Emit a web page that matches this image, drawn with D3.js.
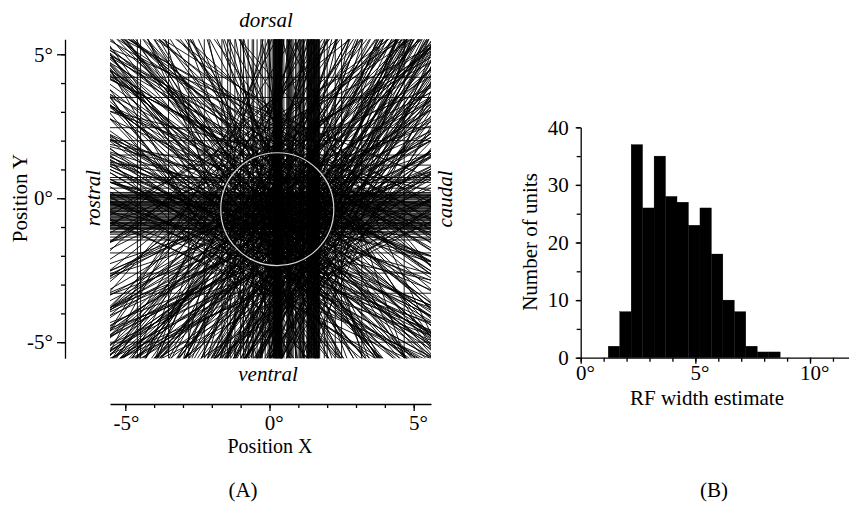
<!DOCTYPE html>
<html>
<head>
<meta charset="utf-8">
<script src="https://cdn.jsdelivr.net/npm/d3@7"></script>
<style>
body { margin: 0; background: #fff; }
text { font-family: "Liberation Serif", "Times New Roman", serif; fill: #000; }
</style>
</head>
<body>
<div id="content"></div>
<script>
// (A) receptive field lines, in degrees of visual angle
var vertX = [-4.58, -4.47, -3.5, -2.8, -2.26, -1.65, -1.45, -1.36, -1.2, -1.0, -0.9, -0.74, -0.6, -0.55,
    -0.43, -0.3, -0.25, -0.15, -0.05, 0.0, 0.05,
    0.12, 0.13, 0.15, 0.16, 0.18, 0.19, 0.2, 0.21, 0.22, 0.24, 0.25, 0.26, 0.27, 0.29, 0.3, 0.31, 0.32,
    0.33, 0.34, 0.35, 0.36, 0.37, 0.38, 0.4, 0.41, 0.42, 0.43, 0.44, 0.5,
    0.6, 0.62, 0.66, 0.69, 0.72, 0.75, 0.78, 0.82, 0.9, 0.95, 1.02, 1.05, 1.08, 1.1, 1.15, 1.18, 1.2,
    1.3, 1.31, 1.33, 1.35, 1.36, 1.38, 1.4, 1.41, 1.43, 1.45, 1.46, 1.48, 1.5, 1.52, 1.53, 1.55, 1.56,
    1.58, 1.6, 1.61, 1.63, 1.65, 1.67, 1.69, 1.7, 1.72, 1.74,
    1.9, 2.0, 2.28, 2.5, 3.2, 4.67];
var horizY = [4.2, 3.5, 2.45, 2.0, 1.5, 1.15, 0.72, 0.64, 0.55, 0.35, 0.2, 0.15, 0.12, 0.1, 0.08, 0.05,
    0.02, 0.0, -0.05, -0.1, -0.12, -0.15, -0.18, -0.22, -0.25, -0.28, -0.33, -0.35, -0.38, -0.42,
    -0.45, -0.47, -0.52, -0.55, -0.58, -0.62, -0.65, -0.68, -0.72, -0.75, -0.78, -0.83, -0.85, -0.88,
    -0.92, -0.95, -0.97, -1.02, -1.05, -1.08, -1.15, -1.2, -1.25, -1.35, -1.45, -1.9, -2.6, -3.3, -5.0];
// [orientation (deg), offset from RF centre (deg)]
var risingLines = [[18,-0.4],[20,0.9],[21,-1.6],[22,0.2],[23,1.8],[24,-0.9],[25,0.5],[25,-2.4],[26,1.3],
    [27,-0.2],[27,2.6],[28,-1.2],[29,0.7],[30,-0.6],[30,1.9],[31,-2.0],[32,0.1],[32,1.1],[33,-1.4],
    [34,0.4],[34,2.3],[35,-0.8],[35,-3.0],[36,1.5],[36,0.0],
    [37,-0.3],[38,0.8],[38,-1.8],[39,2.0],[40,-0.5],[40,0.3],[41,1.2],[41,-2.6],[42,-1.0],[42,0.6],
    [43,2.9],[43,-0.1],[44,1.6],[44,-1.5],[45,0.2],[45,-0.7],[45,1.0],[46,-2.2],[46,0.5],[47,1.9],
    [47,-0.4],[48,-1.1],[48,0.9],[49,2.5],[49,-0.2],[50,-1.7],[50,0.4],
    [51,1.3],[51,-0.6],[52,-2.9],[52,0.1],[53,0.8],[53,-1.3],[54,2.2],[54,-0.3],[55,-0.9],[55,0.6],
    [55,1.6],[56,-2.0],[56,0.0],[57,1.0],[57,-0.5],[58,-1.5],[58,2.7],[59,0.3],[59,-0.8],[60,1.4],
    [60,-2.4],[60,-0.1],[61,0.7],[61,-1.1],[62,2.0],[62,-0.4],[63,-1.8],[63,0.5],[64,1.1],[64,-0.7],
    [65,-3.1],[65,0.2],
    [66,1.7],[66,-1.4],[67,0.4],[67,-0.2],[68,-2.1],[68,0.9],[69,2.4],[70,-0.6],[70,0.1],[71,1.3],
    [72,-1.0],[73,0.6],[74,-2.7],[75,-0.3],[76,1.9],[77,0.3],[78,-1.2],[80,0.8]];
var risingBundles = [[56,-1.0],[57,-1.3],[58,-0.9],[58,-1.8],[59,-1.2],[59,-2.1],[60,-1.6],[61,-0.9],
    [61,-1.9],[62,-1.2],[62,-2.3],[63,-1.0],[63,-1.4],[64,-2.0],[64,-1.6],[65,-1.1],[66,-0.8],[66,-2.4],
    [67,-1.5],[68,-1.0],[53,-1.9],[54,-1.1],[55,-2.3],[52,-1.5],[57,-2.6],[60,-0.7],[62,-0.6],[65,-1.8],
    [69,-1.3],[70,-1.9],
    [22,-1.0],[23,-0.4],[24,-1.5],[25,-0.9],[26,-2.0],[26,-0.6],[27,-1.3],[28,-0.3],[28,-2.2],[29,-1.0],
    [30,-1.6],[31,-0.5],[32,-1.8],[33,-0.9],[34,-1.3],[24,0.3],[29,0.2],[31,0.6],[35,-1.9],[36,-0.6],
    [19,0.1],[33,0.0],[39,-0.6],[40,0.9],[41,-0.2],[43,0.5],[44,-0.9],[46,0.1],[47,-1.3],[48,0.3],
    [49,-0.8],[50,1.0],[51,-0.1],[52,0.6],[54,0.2],[56,0.9],[58,0.0],[61,0.3],[63,-0.2],[67,0.7],
    [69,-0.5],[72,0.2],[74,0.9],[76,-0.6],[79,-0.1],[82,0.4],[84,-0.3],[86,0.2]];
var risingOuter = [[50,-2.0],[52,-2.3],[54,-1.6],[55,-2.8],[56,-1.4],[57,-2.0],[58,-3.0],[59,-1.7],
    [60,-2.7],[61,-1.4],[62,-1.8],[63,-2.5],[64,-1.3],[66,-1.9],[67,-2.8],[68,-1.6],[48,-2.6],[51,-1.2],
    [28,2.0],[31,2.8],[33,1.7],[36,2.5],[38,3.1],[40,1.8],
    [20,-1.9],[21,-0.7],[23,-2.5],[25,-1.8],[27,-2.8],[28,-1.6],[30,-2.4],[32,-1.1],[33,-2.9],[35,-1.4],
    [37,-2.2],[38,-1.2],[58,2.1],[62,2.8],[65,1.6],[70,2.2]];
var fallingLines = [[100,-0.5],[102,1.1],[104,-1.6],[105,0.3],[106,2.1],[108,-0.2],[109,-2.5],[110,0.9],
    [112,-1.0],[113,0.4],[114,1.7],[115,-0.6],[116,-2.9],[117,0.0],[118,1.2],[119,-1.4],[120,0.6],
    [120,2.6],[121,-0.3],[122,-2.0],[123,0.9],[124,-0.8],[125,1.5],[125,0.1],[126,-1.7],[127,2.3],
    [127,-0.4],[128,0.5],[129,-1.1],[130,1.0],[130,-2.8],[131,0.2],[132,-0.6],[132,1.9],[133,-1.5],
    [134,0.7],[134,-0.1],[135,2.9],[135,-0.9],[136,0.4],[137,-2.2],[137,1.3],[138,-0.3],[139,0.8],
    [140,-1.3],[140,2.1],[141,0.0],[142,-0.7],[142,1.6],[143,-2.6],[144,0.5],[145,-0.4],[145,1.1],
    [146,-1.8],[147,2.5],[147,0.2],[148,-1.0],[149,0.9],[150,-0.2],[150,1.8],[151,-2.3],[152,0.6],
    [152,-0.8],[153,1.4],[154,-1.5],[155,0.1],[155,2.8],[156,-0.5],[157,1.0],[158,-3.0],[159,0.4],
    [160,-1.2],[161,2.0],[162,-0.1],[164,0.7],[166,-1.9],[168,1.3],[170,-0.6]];
var fallingBundles = [[145,-1.2],[146,-2.0],[147,-0.9],[148,-1.6],[149,-2.4],[150,-1.1],[151,-1.8],
    [152,-2.7],[153,-1.4],[154,-0.7],[148,1.3],[149,1.9],[150,0.7],[151,1.2],[152,2.2],[153,0.9],
    [154,1.6],[155,1.1],[156,2.0],[144,1.5],[126,0.8],[127,1.4],[128,0.3],[129,1.9],[130,0.6],[131,1.1],
    [132,0.0],[133,0.9],[124,1.8],[122,0.5],[136,-0.5],[138,-1.0],[139,0.2],[141,-0.4],[143,0.6],
    [134,-0.2],[137,0.1],[140,-0.8],[142,0.3],[144,-0.1],
    [101,0.3],[103,-0.2],[107,0.6],[111,-0.4],[114,0.1],[118,-0.7],[121,0.8],[123,-0.1],[126,0.3],
    [135,0.5],[146,0.0],[158,0.6],[160,-0.3],[163,0.2],[165,-0.6],[167,0.4],[169,-1.1],[172,0.3],
    [95,-0.2],[97,0.5]];
var fallingOuter = [[128,1.6],[130,2.3],[132,1.2],[134,2.0],[136,-1.4],[138,1.1],[140,-1.9],[142,-1.5],
    [144,-2.3],[146,-1.2],[148,-2.9],[150,-1.5],[152,-2.0],[125,2.5],
    [145,1.8],[147,1.0],[149,2.6],[150,1.4],[151,1.9],[153,2.4],[154,1.2],[156,1.5],[157,2.7],[158,1.9],
    [159,1.2],[160,2.3],[162,1.6],[141,1.2],[143,2.2]];
var rfCenter = [0.27, -0.38];
var rfRadius = 1.96;
var posTicks = [-5, 0, 5];

// (B) histogram of RF width estimates
var binStart = [1.2, 1.7, 2.2, 2.7, 3.2, 3.7, 4.2, 4.7, 5.2, 5.7, 6.2, 6.7, 7.2, 7.7, 8.2];
var binWidth = 0.5;
var unitCounts = [2, 8, 37, 26, 35, 28, 27, 23, 26, 18, 10, 8, 2, 1, 1];
var countTicks = [0, 10, 20, 30, 40];
var widthTicks = [0, 5, 10];

var font_size = 21;

var svg = d3.select("#content")
  .append("svg")
  .attr("width", 849)
  .attr("height", 510);

var xA = d3.scaleLinear().domain([-5.53, 5.6]).range([110, 431]);
var yA = d3.scaleLinear().domain([-5.56, 5.52]).range([358.3, 39.3]);

svg.append("clipPath")
  .attr("id", "clipA")
  .append("rect")
  .attr("x", 110).attr("y", 39.3)
  .attr("width", 321).attr("height", 319);

var plotA = svg.append("g").attr("clip-path", "url(#clipA)");

function lineEnds(d) {
    var a = d[0] * Math.PI / 180;
    var px = rfCenter[0] - d[1] * Math.sin(a);
    var py = rfCenter[1] + d[1] * Math.cos(a);
    return [px - 20 * Math.cos(a), py - 20 * Math.sin(a), px + 20 * Math.cos(a), py + 20 * Math.sin(a)];
}

var oblique = risingLines.concat(risingBundles, risingOuter, fallingLines, fallingBundles, fallingOuter)
  .map(lineEnds);

plotA.selectAll("line.obl")
  .data(oblique)
  .enter().append("line")
  .attr("class", "obl")
  .attr("x1", function(d) { return xA(d[0]); })
  .attr("y1", function(d) { return yA(d[1]); })
  .attr("x2", function(d) { return xA(d[2]); })
  .attr("y2", function(d) { return yA(d[3]); });

plotA.selectAll("line.vert")
  .data(vertX)
  .enter().append("line")
  .attr("class", "vert")
  .attr("x1", function(d) { return xA(d); })
  .attr("x2", function(d) { return xA(d); })
  .attr("y1", yA(-6))
  .attr("y2", yA(6));

plotA.selectAll("line.horiz")
  .data(horizY)
  .enter().append("line")
  .attr("class", "horiz")
  .attr("y1", function(d) { return yA(d); })
  .attr("y2", function(d) { return yA(d); })
  .attr("x1", xA(-6))
  .attr("x2", xA(6));

plotA.selectAll("line")
  .attr("stroke", "#000")
  .attr("stroke-width", 0.9);

plotA.append("ellipse")
  .attr("cx", xA(rfCenter[0]))
  .attr("cy", yA(rfCenter[1]))
  .attr("rx", xA(rfRadius) - xA(0))
  .attr("ry", yA(0) - yA(rfRadius))
  .attr("fill", "none")
  .attr("stroke", "#d8d8d8")
  .attr("stroke-width", 1.2);

function degLabel(d) { return d + "\u00b0"; }

function styleAxis(g) {
    g.select(".domain").attr("stroke", "#000").attr("stroke-width", 1.3);
    g.selectAll(".tick line").attr("stroke", "#000").attr("stroke-width", 1.3);
    g.selectAll("text")
      .attr("font-size", font_size + "px")
      .attr("fill", "#000");
}

// A: y axis, minor then major ticks
var ayMinor = svg.append("g").attr("transform", "translate(65,0)")
  .call(d3.axisLeft(yA).tickValues(d3.range(-5, 6)).tickSize(4).tickSizeOuter(0).tickFormat(""));
styleAxis(ayMinor);
var ayMajor = svg.append("g").attr("transform", "translate(65,0)")
  .call(d3.axisLeft(yA).tickValues(posTicks).tickSize(8).tickPadding(4).tickSizeOuter(0).tickFormat(degLabel));
styleAxis(ayMajor);
ayMajor.select(".domain").remove();

var axMinor = svg.append("g").attr("transform", "translate(0,404)")
  .call(d3.axisBottom(xA).tickValues(d3.range(-5, 6)).tickSize(4).tickSizeOuter(0).tickFormat(""));
styleAxis(axMinor);
var axMajor = svg.append("g").attr("transform", "translate(0,404)")
  .call(d3.axisBottom(xA).tickValues(posTicks).tickSize(7).tickPadding(4).tickSizeOuter(0).tickFormat(degLabel));
styleAxis(axMajor);
axMajor.select(".domain").remove();
axMajor.selectAll("text").attr("dx", function(d) { return d < 0 ? "0.03em" : "0.2em"; });

// A: labels
svg.append("text").attr("x", 266).attr("y", 27).attr("text-anchor", "middle")
  .attr("font-size", font_size + "px").attr("font-style", "italic").text("dorsal");
svg.append("text").attr("x", 268).attr("y", 381).attr("text-anchor", "middle")
  .attr("font-size", font_size + "px").attr("font-style", "italic").text("ventral");
svg.append("text").attr("transform", "translate(100,198) rotate(-90)").attr("text-anchor", "middle")
  .attr("font-size", font_size + "px").attr("font-style", "italic").text("rostral");
svg.append("text").attr("transform", "translate(452,199) rotate(-90)").attr("text-anchor", "middle")
  .attr("font-size", font_size + "px").attr("font-style", "italic").text("caudal");
svg.append("text").attr("transform", "translate(27,198) rotate(-90)").attr("text-anchor", "middle")
  .attr("font-size", font_size + "px").text("Position Y");
svg.append("text").attr("x", 270).attr("y", 452.5).attr("text-anchor", "middle")
  .attr("font-size", "20px").text("Position X");
svg.append("text").attr("x", 243).attr("y", 497).attr("text-anchor", "middle")
  .attr("font-size", font_size + "px").text("(A)");

// B: histogram
var xB = d3.scaleLinear().domain([0, 11.7]).range([580.7, 849]);
var yB = d3.scaleLinear().domain([0, 40]).range([357.7, 127.3]);

svg.selectAll("rect.bin")
  .data(unitCounts)
  .enter().append("rect")
  .attr("class", "bin")
  .attr("x", function(d, i) { return xB(binStart[i]); })
  .attr("width", function(d, i) { return xB(binStart[i] + binWidth) - xB(binStart[i]); })
  .attr("y", function(d) { return yB(d); })
  .attr("height", function(d) { return yB(0) - yB(d); })
  .attr("fill", "#000")
  .attr("stroke", "#000")
  .attr("stroke-width", 0.3);

var byMinor = svg.append("g").attr("transform", "translate(580.7,0)")
  .call(d3.axisLeft(yB).tickValues(d3.range(0, 41, 5)).tickSize(4).tickSizeOuter(0).tickFormat(""));
styleAxis(byMinor);
var byMajor = svg.append("g").attr("transform", "translate(580.7,0)")
  .call(d3.axisLeft(yB).tickValues(countTicks).tickSize(5).tickPadding(7).tickSizeOuter(0));
styleAxis(byMajor);
byMajor.select(".domain").remove();

var bxMinor = svg.append("g").attr("transform", "translate(0,357.7)")
  .call(d3.axisBottom(xB).tickValues(d3.range(0, 12)).tickSize(4).tickSizeOuter(0).tickFormat(""));
styleAxis(bxMinor);
var bxMajor = svg.append("g").attr("transform", "translate(0,357.7)")
  .call(d3.axisBottom(xB).tickValues(widthTicks).tickSize(6).tickPadding(1).tickSizeOuter(0).tickFormat(degLabel));
styleAxis(bxMajor);
bxMajor.select(".domain").remove();
bxMajor.selectAll("text").attr("dx", "0.2em");

svg.append("text").attr("x", 707).attr("y", 405).attr("text-anchor", "middle")
  .attr("font-size", font_size + "px").text("RF width estimate");
svg.append("text").attr("transform", "translate(537,242) rotate(-90)").attr("text-anchor", "middle")
  .attr("font-size", font_size + "px").text("Number of units");
svg.append("text").attr("x", 714).attr("y", 497).attr("text-anchor", "middle")
  .attr("font-size", font_size + "px").text("(B)");
</script>
</body>
</html>
